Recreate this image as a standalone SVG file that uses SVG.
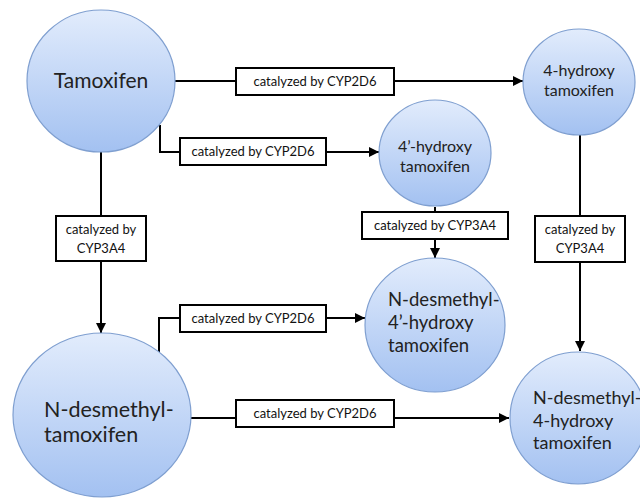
<svg xmlns="http://www.w3.org/2000/svg" width="640" height="499" viewBox="0 0 640 499">
<style>
.node{fill:url(#g);stroke:#7f9fd0;stroke-width:1.2}
.lbl{font-family:Lato,"Open Sans",sans-serif;fill:#222;text-anchor:middle}
.lblL{font-family:Lato,"Open Sans",sans-serif;fill:#222}
.box{fill:#fff;stroke:#000;stroke-width:2}
.bt{font-family:Lato,"Open Sans",sans-serif;font-size:13px;fill:#111;text-anchor:middle}
.ln{fill:none;stroke:#000;stroke-width:2}
</style>
<defs>
<linearGradient id="g" x1="0" y1="0" x2="0" y2="1">
<stop offset="0" stop-color="#e2ecfc"/>
<stop offset="1" stop-color="#a3c1f1"/>
</linearGradient>
<marker id="a" viewBox="0 0 10 10" refX="10" refY="5" markerWidth="10" markerHeight="10" markerUnits="userSpaceOnUse" orient="auto">
<path d="M0,0 L10,5 L0,10 Z" fill="#000"/>
</marker>
</defs>
<rect width="640" height="499" fill="#fff"/>
<g id="connectors">
<path class="ln" d="M175,81 H236"/>
<path class="ln" d="M394,81 H523" marker-end="url(#a)"/>
<path class="ln" d="M160,125 V152 H180"/>
<path class="ln" d="M326,152 H379" marker-end="url(#a)"/>
<path class="ln" d="M435,207 V212"/>
<path class="ln" d="M435,239 V258" marker-end="url(#a)"/>
<path class="ln" d="M580,135 V216"/>
<path class="ln" d="M580,262 V351" marker-end="url(#a)"/>
<path class="ln" d="M101,152 V216"/>
<path class="ln" d="M101,261 V333" marker-end="url(#a)"/>
<path class="ln" d="M159,357 V318 H180"/>
<path class="ln" d="M326,318 H365" marker-end="url(#a)"/>
<path class="ln" d="M191,418 H236"/>
<path class="ln" d="M394,418 H509" marker-end="url(#a)"/>
</g>
<g id="box1"><rect class="box" x="236" y="68" width="158" height="27"/><text class="bt" x="315" y="86">catalyzed by CYP2D6</text></g>
<g id="box2"><rect class="box" x="180" y="138" width="146" height="27"/><text class="bt" x="253" y="156">catalyzed by CYP2D6</text></g>
<g id="box3"><rect class="box" x="362" y="212" width="146" height="27"/><text class="bt" x="435" y="230">catalyzed by CYP3A4</text></g>
<g id="box4"><rect class="box" x="535" y="216" width="90" height="46"/><text class="bt" x="580" y="234">catalyzed by</text><text class="bt" x="580" y="253">CYP3A4</text></g>
<g id="box5"><rect class="box" x="56" y="216" width="90" height="45"/><text class="bt" x="101" y="234">catalyzed by</text><text class="bt" x="101" y="253">CYP3A4</text></g>
<g id="box6"><rect class="box" x="180" y="305" width="146" height="27"/><text class="bt" x="253" y="323">catalyzed by CYP2D6</text></g>
<g id="box7"><rect class="box" x="236" y="400" width="158" height="27"/><text class="bt" x="315" y="418">catalyzed by CYP2D6</text></g>
<g id="tamoxifen"><ellipse class="node" cx="101" cy="81" rx="74" ry="71"/><text class="lbl" x="101" y="88" font-size="21">Tamoxifen</text></g>
<g id="hydroxy4"><ellipse class="node" cx="579" cy="82" rx="56" ry="53"/><text class="lbl" x="579" y="76" font-size="16">4-hydroxy</text><text class="lbl" x="579" y="96" font-size="16">tamoxifen</text></g>
<g id="hydroxy4p"><ellipse class="node" cx="435" cy="153" rx="56" ry="53"/><text class="lbl" x="435" y="152" font-size="16">4’-hydroxy</text><text class="lbl" x="435" y="172" font-size="16">tamoxifen</text></g>
<g id="ndm4p"><ellipse class="node" cx="435" cy="325" rx="70" ry="67"/><text class="lblL" x="388" y="306" font-size="18.5">N-desmethyl-</text><text class="lblL" x="388" y="329" font-size="18.5">4’-hydroxy</text><text class="lblL" x="388" y="352" font-size="18.5">tamoxifen</text></g>
<g id="ndm"><ellipse class="node" cx="102" cy="415" rx="89" ry="82"/><text class="lblL" x="44" y="417" font-size="21.5">N-desmethyl-</text><text class="lblL" x="44" y="442" font-size="21.5">tamoxifen</text></g>
<g id="ndm4"><ellipse class="node" cx="578" cy="418" rx="68" ry="66"/><text class="lblL" x="533" y="404" font-size="18">N-desmethyl-</text><text class="lblL" x="533" y="427" font-size="18">4-hydroxy</text><text class="lblL" x="533" y="449" font-size="18">tamoxifen</text></g>
</svg>
